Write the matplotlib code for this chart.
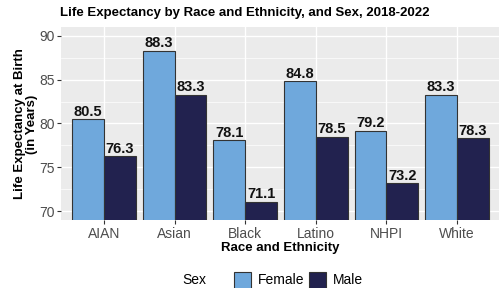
import matplotlib
matplotlib.use("Agg")
import matplotlib.pyplot as plt
from matplotlib.patches import Rectangle
import numpy as np

groups = ["AIAN", "Asian", "Black", "Latino", "NHPI", "White"]
female = [80.5, 88.3, 78.1, 84.8, 79.2, 83.3]
male = [76.3, 83.3, 71.1, 78.5, 73.2, 78.3]
yticks = [70, 75, 80, 85, 90]

c_female = "#6FA8DC"
c_male = "#22224F"

plt.rcParams["font.family"] = ["Liberation Sans", "DejaVu Sans"]

W, H = 502, 288
fig = plt.figure(figsize=(W / 100, H / 100), dpi=100)
ax = fig.add_axes([61.5 / W, 1 - 220 / H, 438 / W, 193 / H])
ax.set_facecolor("#EBEBEB")

x = np.arange(len(groups))
w = 0.45
b1 = ax.bar(x - w / 2, female, w, color=c_female, edgecolor="#333333", linewidth=0.8, zorder=3)
b2 = ax.bar(x + w / 2, male, w, color=c_male, edgecolor="#333333", linewidth=0.8, zorder=3)
for bars, vals in ((b1, female), (b2, male)):
    for r, v in zip(bars, vals):
        ax.text(r.get_x() + r.get_width() / 2, v + 0.05, f"{v:.1f}", ha="center", va="bottom",
                fontsize=10.5, fontweight="bold", color="#111111", zorder=4)

ax.set_ylim(69, 91)
ax.set_xlim(-0.6, len(groups) - 0.4)
ax.set_yticks(yticks)
ax.set_yticks([72.5, 77.5, 82.5, 87.5], minor=True)
ax.set_xticks(x)
ax.set_xticklabels(groups)
ax.grid(True, which="major", color="white", linewidth=1.0, zorder=0)
ax.grid(True, which="minor", axis="y", color="white", linewidth=0.5, zorder=0)
ax.tick_params(axis="both", which="major", labelsize=10, labelcolor="#4D4D4D", color="#333333",
               length=3, width=0.8, pad=2)
ax.tick_params(axis="y", which="minor", length=0)
for s in ax.spines.values():
    s.set_visible(False)

ax.set_xlabel("Race and Ethnicity", fontsize=9.5, fontweight="bold", labelpad=1)
fig.text(26 / W, 1 - 124 / H, "Life Expectancy at Birth\n(in Years)", fontsize=9.5,
         fontweight="bold", rotation=90, ha="center", va="center", linespacing=0.95,
         multialignment="center")
fig.text(60 / W, 1 - 13 / H, "Life Expectancy by Race and Ethnicity, and Sex, 2018-2022",
         fontsize=9.5, fontweight="bold", va="center", ha="left")

# legend drawn by hand: "Sex" title on the same row as the keys
ly = 1 - 280 / H
fig.text(182 / W, ly, "Sex", fontsize=10, va="center", ha="left")
for x0, col, lab in ((234, c_female, "Female"), (309, c_male, "Male")):
    fig.patches.append(Rectangle((x0 / W, ly - 8.5 / H), 17 / W, 17 / H, transform=fig.transFigure,
                                 facecolor=col, edgecolor="#333333", linewidth=0.8))
    fig.text((x0 + 24) / W, ly, lab, fontsize=10, va="center", ha="left")

fig.savefig("out.png", dpi=100)
